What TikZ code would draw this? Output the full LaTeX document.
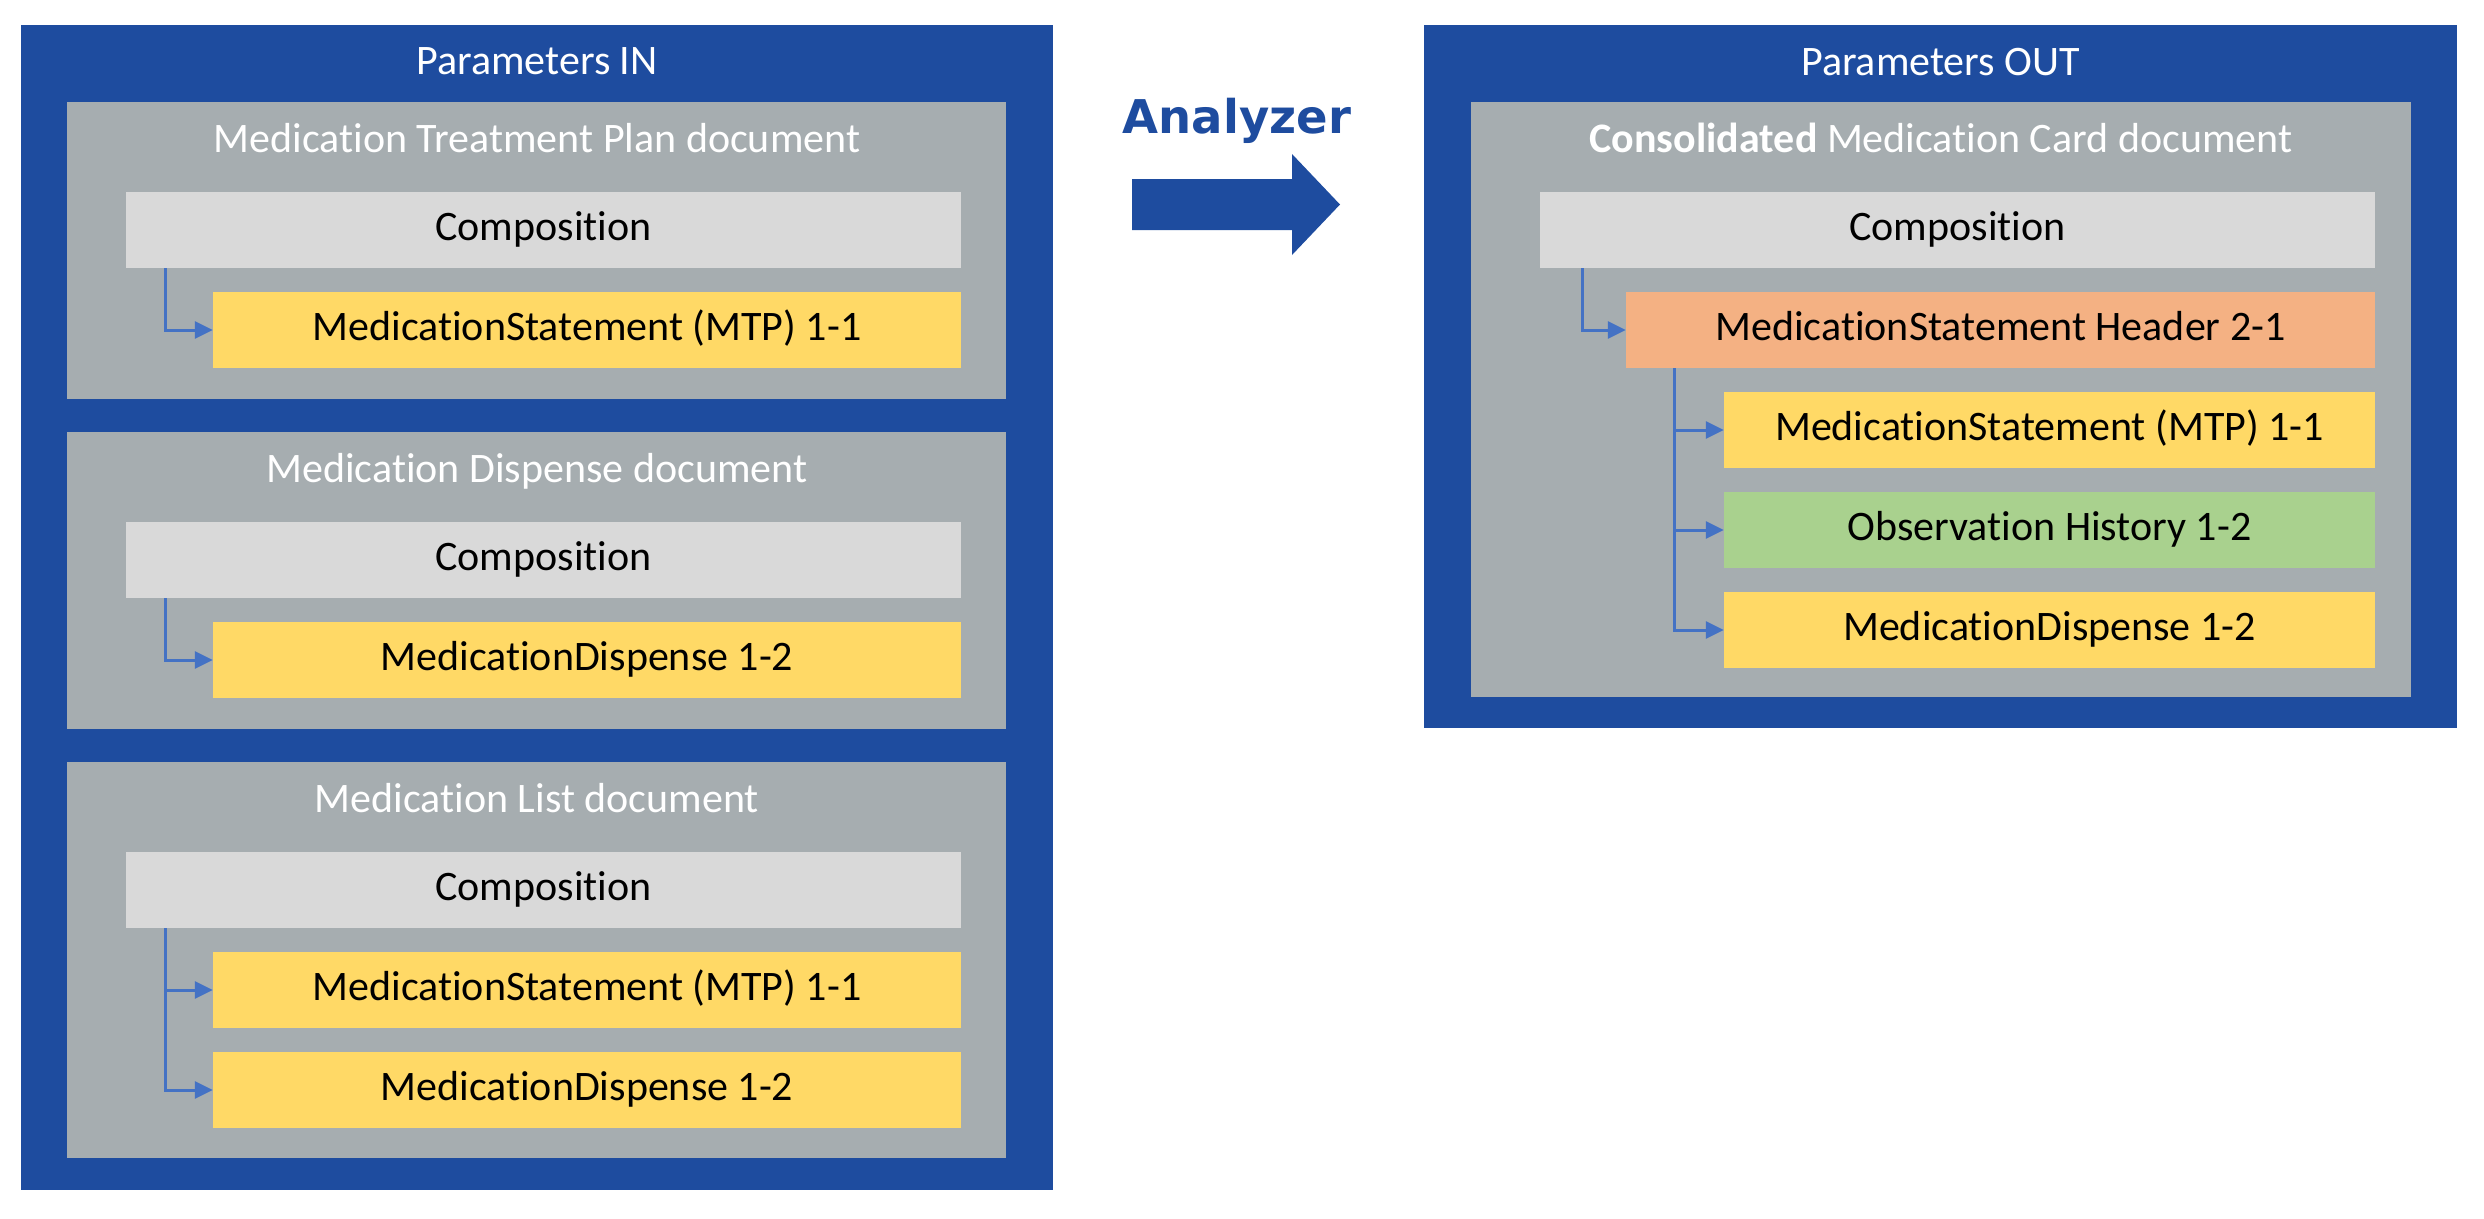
\documentclass[tikz,border=0pt]{standalone}
\usepackage{fontspec}
\setmainfont{Carlito}[Ligatures=NoCommon]
\newfontfamily\analyzerfont{DejaVu Sans}
\usetikzlibrary{arrows.meta}
\definecolor{outerblue}{RGB}{30,76,159}
\definecolor{docgray}{RGB}{166,173,176}
\definecolor{compgray}{RGB}{217,217,217}
\definecolor{medyellow}{RGB}{255,217,102}
\definecolor{hdrorange}{RGB}{244,177,131}
\definecolor{obsgreen}{RGB}{169,209,142}
\definecolor{connblue}{RGB}{68,114,196}
\tikzset{
  base font/.style={font=\fontsize{42}{50}\selectfont},
  panel/.style={fill=outerblue, inner sep=0pt},
  docbox/.style={fill=docgray, inner sep=0pt},
  itembox/.style={inner sep=0pt, base font, text=black, text height=26.5pt, text depth=5.3pt},
  comp/.style={itembox, fill=compgray},
  med/.style={itembox, fill=medyellow},
  hdr/.style={itembox, fill=hdrorange},
  obs/.style={itembox, fill=obsgreen},
  title/.style={base font, text=white, anchor=base, inner sep=0pt},
  conn/.style={draw=connblue, line width=3pt, -{Triangle[length=18pt,width=17pt]}},
}
% \placebox{style}{x1}{y1}{x2}{y2}{name}{text}
\newcommand\placebox[7]{%
  \node[#1, minimum width={#4pt-#2pt}, minimum height={#5pt-#3pt}, anchor=center]
    (#6) at ({(#2+#4)/2},{(#3+#5)/2}) {#7};}
\begin{document}
\begin{tikzpicture}[x=1pt,y=-1pt]
\useasboundingbox (0,0) rectangle (2484,1218);
% Left panel
\placebox{panel}{21}{25}{1053}{1190}{inpanel}{}
\node[title] (intitle) at (537,74) {Parameters IN};
% doc 1
\placebox{docbox}{67}{102}{1006}{399}{doc1}{}
\node[title] (doc1t) at (537,152) {Medication Treatment Plan document};
\placebox{comp}{126}{192}{961}{268}{comp1}{Composition}
\placebox{med}{213}{292}{961}{368}{ms1}{MedicationStatement (MTP) 1-1}
\draw[conn] ([xshift=39.5pt]comp1.south west) |- (ms1.west);
% doc 2
\placebox{docbox}{67}{432}{1006}{729}{doc2}{}
\node[title] (doc2t) at (537,482) {Medication Dispense document};
\placebox{comp}{126}{522}{961}{598}{comp2}{Composition}
\placebox{med}{213}{622}{961}{698}{md2}{MedicationDispense 1-2}
\draw[conn] ([xshift=39.5pt]comp2.south west) |- (md2.west);
% doc 3
\placebox{docbox}{67}{762}{1006}{1158}{doc3}{}
\node[title] (doc3t) at (537,812) {Medication List document};
\placebox{comp}{126}{852}{961}{928}{comp3}{Composition}
\placebox{med}{213}{952}{961}{1028}{ms3}{MedicationStatement (MTP) 1-1}
\placebox{med}{213}{1052}{961}{1128}{md3}{MedicationDispense 1-2}
\draw[conn] ([xshift=39.5pt]comp3.south west) |- (ms3.west);
\draw[conn] ([xshift=39.5pt]comp3.south west) |- (md3.west);
% Analyzer arrow
\node[font=\analyzerfont\fontsize{46.5}{54}\selectfont\bfseries, text=outerblue, anchor=base, inner sep=0pt] (analyzer) at (1237,133) {Analyzer};
\fill[outerblue] (1132,179) -- (1292,179) -- (1292,154) -- (1340,204.5) -- (1292,255) -- (1292,230) -- (1132,230) -- cycle;
% Right panel
\placebox{panel}{1424}{25}{2457}{728}{outpanel}{}
\node[title] (outtitle) at (1940.5,75) {Parameters OUT};
\placebox{docbox}{1471}{102}{2411}{697}{docout}{}
\node[title] (docoutt) at (1941,152) {\textbf{Consolidated} Medication Card document};
\placebox{comp}{1540}{192}{2375}{268}{compout}{Composition}
\placebox{hdr}{1626}{292}{2375}{368}{header}{MedicationStatement Header 2-1}
\placebox{med}{1724}{392}{2375}{468}{msout}{MedicationStatement (MTP) 1-1}
\placebox{obs}{1724}{492}{2375}{568}{obsout}{Observation History 1-2}
\placebox{med}{1724}{592}{2375}{668}{mdout}{MedicationDispense 1-2}
\draw[conn] ([xshift=43pt]compout.south west) |- (header.west);
\draw[conn] ([xshift=49pt]header.south west) |- (msout.west);
\draw[conn] ([xshift=49pt]header.south west) |- (obsout.west);
\draw[conn] ([xshift=49pt]header.south west) |- (mdout.west);
\end{tikzpicture}
\end{document}
